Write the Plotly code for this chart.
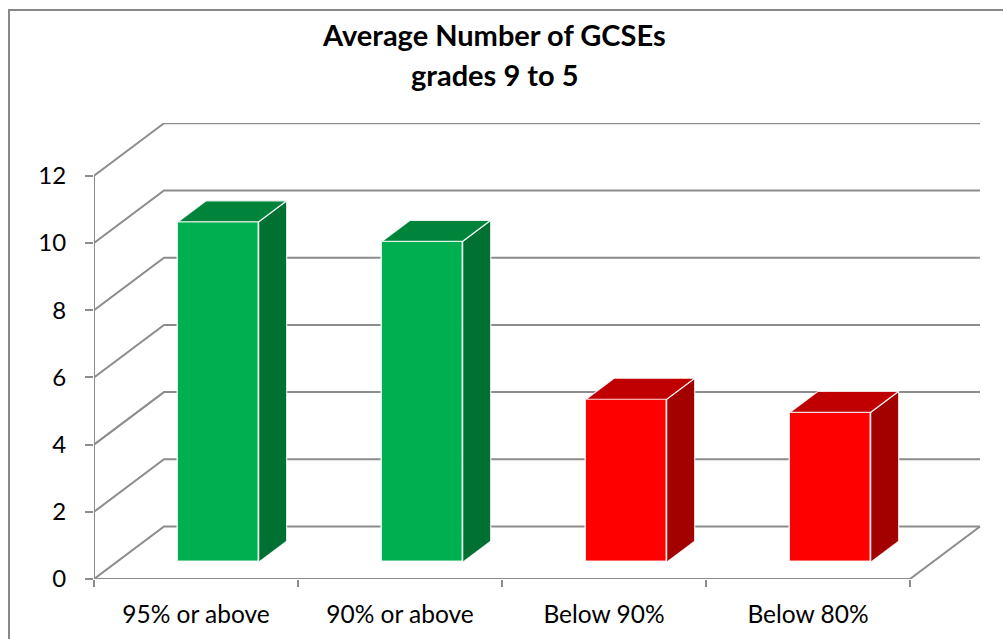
import plotly.graph_objects as go

# ---- data ----
categories = ["95% or above", "90% or above", "Below 90%", "Below 80%"]
values = [10.13, 9.55, 4.85, 4.46]
y_ticks = [0, 2, 4, 6, 8, 10, 12]
title_lines = ["Average Number of GCSEs", "grades 9 to 5"]

# ---- style ----
front_colors = ["#00B050", "#00B050", "#FF0000", "#FF0000"]
top_colors = ["#00843C", "#00843C", "#C00000", "#C00000"]
side_colors = ["#007033", "#007033", "#A30000", "#A30000"]
grid_color = "#8C8C8C"
FONT = "Lato"

W, H = 1003, 639
L, R, T, B = 94, 982, 123, 579          # plot-area pixel box
CAT_PX = (910 - 94) / 4                  # pixels per category
Y_PX = 33.6                              # pixels per value unit
DX = 70 / CAT_PX                         # full depth offset (data units)
DY = 52.5 / Y_PX
Z0, Z1 = 0.32, 0.72                      # bar depth span (fraction of depth)
HALF = 0.1975                            # half bar width (category units)

n = len(categories)
x_lo = -0.5
x_hi = x_lo + (R - L) / CAT_PX
y_hi = (B - T) / Y_PX

fig = go.Figure()

# 3D bars: side and top faces as polygons, front face as bar
for i, v in enumerate(values):
    sx0, sy0 = Z0 * DX, Z0 * DY
    sx1, sy1 = Z1 * DX, Z1 * DY
    fig.add_trace(go.Bar(x=[i + sx0], y=[v], base=[sy0], width=[2 * HALF],
                         marker=dict(color=front_colors[i],
                                     line=dict(color="rgba(255,255,255,0.85)", width=1.5)),
                         showlegend=False, hoverinfo="skip"))
    side_x = [i + HALF + sx0, i + HALF + sx1, i + HALF + sx1, i + HALF + sx0, i + HALF + sx0]
    side_y = [sy0, sy1, v + sy1, v + sy0, sy0]
    fig.add_trace(go.Scatter(x=side_x, y=side_y, mode="lines", fill="toself",
                             fillcolor=side_colors[i],
                             line=dict(color="rgba(255,255,255,0.85)", width=1.2),
                             showlegend=False, hoverinfo="skip"))
    top_x = [i - HALF + sx0, i + HALF + sx0, i + HALF + sx1, i - HALF + sx1, i - HALF + sx0]
    top_y = [v + sy0, v + sy0, v + sy1, v + sy1, v + sy0]
    fig.add_trace(go.Scatter(x=top_x, y=top_y, mode="lines", fill="toself",
                             fillcolor=top_colors[i],
                             line=dict(color="rgba(255,255,255,0.85)", width=1.2),
                             showlegend=False, hoverinfo="skip"))

shapes = []
# wall gridlines (left wall diagonal + back wall horizontal)
back_right = (n - 0.5) + DX
for t in y_ticks:
    path = f"M {x_lo},{t} L {x_lo + DX},{t + DY} L {back_right},{t + DY}"
    shapes.append(dict(type="path", path=path, xref="x", yref="y", layer="below",
                       line=dict(color=grid_color, width=2)))
# floor edges
floor = f"M {x_lo},0 L {n - 0.5},0 L {back_right},{DY}"
shapes.append(dict(type="path", path=floor, xref="x", yref="y", layer="below",
                   line=dict(color=grid_color, width=2)))
# front vertical axis
shapes.append(dict(type="line", x0=x_lo, x1=x_lo, y0=0, y1=max(y_ticks), xref="x", yref="y",
                   layer="below", line=dict(color=grid_color, width=2)))
# outer chart border (only top and left visible)
px = lambda p: (p - L) / (R - L)
py = lambda p: (B - p) / (B - T)
shapes.append(dict(type="rect", xref="paper", yref="paper",
                   x0=px(9), x1=px(W + 20), y0=py(H + 20), y1=py(10),
                   line=dict(color="#878787", width=2), layer="below"))

annotations = []
title_y = [34, 75]
for line, yy in zip(title_lines, title_y):
    annotations.append(dict(text=f"<b>{line}</b>", xref="paper", yref="paper",
                            x=px(494), y=py(yy), xanchor="center", yanchor="middle",
                            showarrow=False, font=dict(family=FONT, size=29, color="#000000")))

fig.update_layout(
    width=W, height=H, autosize=False,
    margin=dict(l=L, r=W - R, t=T, b=H - B, pad=0),
    paper_bgcolor="white", plot_bgcolor="white",
    shapes=shapes, annotations=annotations,
    bargap=0, showlegend=False,
    xaxis=dict(range=[x_lo, x_hi], tickmode="array", tickvals=list(range(n)),
               ticktext=categories, ticks="", showgrid=False, zeroline=False,
               showline=False, ticklabelstandoff=18,
               tickfont=dict(family=FONT, size=24.5, color="#000000"),
               minor=dict(tickmode="array", tickvals=[k - 0.5 for k in range(n + 1)],
                          ticks="outside", ticklen=7, tickwidth=2, tickcolor=grid_color,
                          showgrid=False),
               fixedrange=True),
    yaxis=dict(range=[0, y_hi], tickmode="array", tickvals=y_ticks,
               ticks="outside", ticklen=8, tickwidth=2, tickcolor=grid_color,
               showgrid=False, zeroline=False, showline=False, ticklabelstandoff=14,
               tickfont=dict(family=FONT, size=24, color="#000000"),
               fixedrange=True),
)

fig.write_html("out.html")
